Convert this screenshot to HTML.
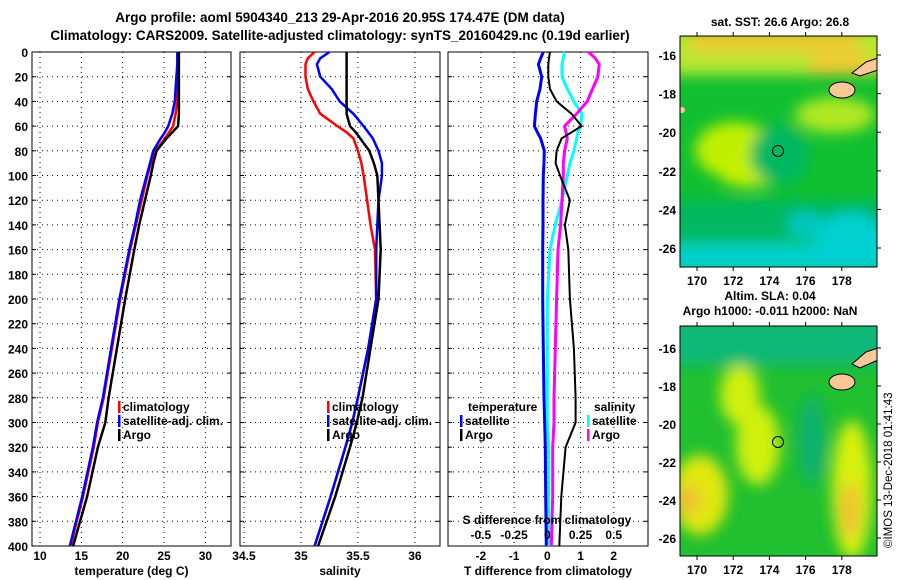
<!DOCTYPE html>
<html><head><meta charset="utf-8"><style>
body{margin:0;background:#fff}
svg{display:block;font-family:"Liberation Sans",sans-serif;font-weight:bold}
</style></head><body>
<svg id="c" width="900" height="580" viewBox="0 0 900 580" xmlns="http://www.w3.org/2000/svg">
<defs>
<filter id="bl" x="-20%" y="-20%" width="140%" height="140%"><feGaussianBlur stdDeviation="7"/></filter>
<clipPath id="m1"><rect x="680" y="36" width="197" height="231"/></clipPath>
<clipPath id="m2"><rect x="680" y="326" width="197" height="230"/></clipPath>
</defs>
<text x="340" y="22" font-size="13.5" text-anchor="middle">Argo profile: aoml 5904340_213 29-Apr-2016 20.95S 174.47E (DM data)</text>
<text x="340" y="40" font-size="13.5" text-anchor="middle">Climatology: CARS2009. Satellite-adjusted climatology: synTS_20160429.nc (0.19d earlier)</text>

<g>
<text x="780" y="26" font-size="12" text-anchor="middle">sat. SST: 26.6 Argo: 26.8</text>
<g clip-path="url(#m1)">
<rect x="680" y="36" width="197" height="231" fill="#10c030"/>
<g filter="url(#bl)">
<rect x="670" y="30" width="220" height="45" fill="#b8e830"/>
<rect x="690" y="30" width="170" height="22" fill="#f0c830"/>
<rect x="810" y="55" width="60" height="20" fill="#f0c830"/>
<ellipse cx="735" cy="150" rx="40" ry="28" fill="#c0f000"/>
<ellipse cx="750" cy="175" rx="30" ry="12" fill="#c8f000"/>
<ellipse cx="835" cy="115" rx="40" ry="18" fill="#b0e820"/>
<ellipse cx="780" cy="155" rx="30" ry="30" fill="#00b860"/>
<rect x="670" y="200" width="220" height="40" fill="#00b860"/>
<rect x="670" y="243" width="220" height="30" fill="#00d0d0"/>
<ellipse cx="850" cy="240" rx="35" ry="28" fill="#00d0d0"/>
<ellipse cx="805" cy="225" rx="18" ry="14" fill="#00c8c0"/>
</g>
<ellipse cx="842" cy="90" rx="13" ry="8" fill="#f8c898" stroke="#000" stroke-width="1"/>
<path d="M852 73 L866 62 L878 58 L878 70 L860 76 Z" fill="#f8c898" stroke="#000" stroke-width="1"/>
<ellipse cx="682" cy="110" rx="3" ry="3" fill="#f8c898"/>
</g>
<rect x="680" y="36" width="197" height="231" fill="none" stroke="#000"/>
<circle cx="778" cy="151" r="5.5" fill="none" stroke="#000"/>
<g id="map1ax"></g>
</g>

<g>
<text x="770" y="300" font-size="12" text-anchor="middle">Altim. SLA: 0.04</text>
<text x="770" y="315" font-size="12" text-anchor="middle">Argo h1000: -0.011 h2000: NaN</text>
<g clip-path="url(#m2)">
<rect x="680" y="326" width="197" height="230" fill="#20c030"/>
<g filter="url(#bl)">
<rect x="670" y="320" width="220" height="45" fill="#10b878"/>
<ellipse cx="740" cy="395" rx="20" ry="30" fill="#d0f010"/>
<ellipse cx="758" cy="445" rx="22" ry="40" fill="#d0f010"/>
<ellipse cx="700" cy="495" rx="28" ry="40" fill="#e0e810"/>
<ellipse cx="688" cy="500" rx="12" ry="16" fill="#f0c030"/>
<ellipse cx="852" cy="490" rx="20" ry="70" fill="#d8f010"/>
<ellipse cx="850" cy="510" rx="10" ry="28" fill="#f0c030"/>
<ellipse cx="812" cy="440" rx="14" ry="45" fill="#10b070"/>
</g>
<ellipse cx="842" cy="382" rx="13" ry="8" fill="#f8c898" stroke="#000" stroke-width="1"/>
<path d="M852 364 L866 352 L878 348 L878 360 L860 368 Z" fill="#f8c898" stroke="#000" stroke-width="1"/>
</g>
<rect x="680" y="326" width="197" height="230" fill="none" stroke="#000"/>
<circle cx="778" cy="442" r="5.5" fill="none" stroke="#000"/>
<g id="map2ax"></g>
</g>
<text transform="translate(892,548) rotate(-90)" font-size="11.5" font-weight="normal">©IMOS 13-Dec-2018 01:41:43</text>
</svg>
<script>
const depths=[0,5,10,20,30,40,50,60,65,70,80,90,100,120,140,160,200,240,280,300,320,360,400];
const tArgo=[26.8,26.8,26.8,26.8,26.8,26.8,26.8,26.7,26.0,25.3,24.1,23.7,23.4,22.7,22.0,21.4,20.3,19.3,18.3,17.9,17.0,15.7,14.0];
const tClim=[26.7,26.7,26.7,26.6,26.6,26.6,26.4,26.1,25.6,25.1,24.0,23.4,23.0,22.3,21.6,20.9,19.7,18.7,17.7,17.0,16.5,15.2,13.7];
const tSat=[26.6,26.6,26.6,26.5,26.4,26.3,26.0,25.5,25.1,24.6,23.7,23.3,22.9,22.1,21.5,20.8,19.6,18.6,17.6,16.9,16.4,15.1,13.6];
const sArgo=[35.40,35.40,35.40,35.40,35.40,35.40,35.40,35.43,35.48,35.52,35.60,35.64,35.67,35.68,35.69,35.70,35.68,35.61,35.54,35.49,35.43,35.30,35.15];
const sClim=[35.12,35.06,35.04,35.04,35.06,35.11,35.17,35.32,35.40,35.46,35.50,35.53,35.55,35.58,35.61,35.65,35.66,35.59,35.50,35.45,35.39,35.26,35.12];
const sSat=[35.25,35.17,35.14,35.17,35.27,35.34,35.46,35.55,35.59,35.63,35.68,35.71,35.71,35.68,35.67,35.66,35.66,35.59,35.50,35.45,35.39,35.26,35.12];
const dtArgo=[0.08,0.05,0.03,0.03,0.08,0.28,0.73,1.03,0.73,0.43,0.28,0.25,0.38,0.68,0.53,0.63,0.68,0.80,0.85,0.85,0.55,0.42,0.36];
const dtSat=[-0.12,-0.2,-0.27,-0.17,-0.22,-0.32,-0.36,-0.39,-0.3,-0.2,-0.09,-0.1,-0.12,-0.13,-0.13,-0.14,-0.14,-0.12,-0.1,-0.08,-0.06,-0.05,-0.03];
const dsSat=[0.13,0.12,0.11,0.11,0.15,0.20,0.26,0.25,0.23,0.22,0.20,0.17,0.15,0.11,0.06,0.02,0.0,0.0,0.0,0.0,0.01,0.01,0.01];
const dsArgo=[0.31,0.36,0.39,0.38,0.34,0.30,0.22,0.13,0.14,0.15,0.13,0.12,0.12,0.11,0.10,0.08,0.07,0.06,0.05,0.05,0.04,0.04,0.03];
const depthTicks=[0,20,40,60,80,100,120,140,160,180,200,220,240,260,280,300,320,340,360,380,400];
const tTicks=[10,15,20,25,30];
const sTicks=[34.5,35,35.5,36];
const dTicks=[-2,-1,0,1,2];
const dsTicks=[-0.5,-0.25,0,0.25,0.5];
const lonTicks=[170,172,174,176,178];
const latTicks=[-16,-18,-20,-22,-24,-26];

const NS='http://www.w3.org/2000/svg';
const svg=document.getElementById('c');
function mk(tag,at,parent){const e=document.createElementNS(NS,tag);for(const k in at)e.setAttribute(k,at[k]);(parent||svg).appendChild(e);return e;}
const Y0=52,Y1=546;
const yS=d=>Y0+d/400*(Y1-Y0);

function panel(name,x0,x1,xmin,xmax,xt,xlabel){
  const g=mk('g',{});
  
  
  const xs=v=>x0+(v-xmin)/(xmax-xmin)*(x1-x0);
  depthTicks.forEach(d=>{
    if(d>0&&d<400){const l=mk('line',{x1:x0,x2:x1,y1:yS(d),y2:yS(d),stroke:'#000','stroke-dasharray':'1,4','stroke-width':1},g);
    }
    mk('line',{x1:x0,x2:x0+4,y1:yS(d),y2:yS(d),stroke:'#000'},g);
    mk('line',{x1:x1-4,x2:x1,y1:yS(d),y2:yS(d),stroke:'#000'},g);
  });
  xt.forEach(v=>{
    const x=xs(v);
    const l=mk('line',{x1:x,x2:x,y1:Y0,y2:Y1,stroke:'#000','stroke-dasharray':'1,4'},g);
    
    const t=mk('text',{x:x,y:Y1+14,'font-size':12,'text-anchor':'middle'},g);t.textContent=v;
    
  });
  const fr=mk('rect',{x:x0,y:Y0,width:x1-x0,height:Y1-Y0,fill:'none',stroke:'#000'},g);
  
  const lb=mk('text',{x:(x0+x1)/2,y:575,'font-size':12,'text-anchor':'middle'},g);lb.textContent=xlabel;
  
  return {g,xs};
}
function line(p,vals,col,nm,w){
  const pts=vals.map((v,i)=>p.xs(v).toFixed(1)+','+yS(depths[i]).toFixed(1)).join(' ');
  const l=mk('polyline',{points:pts,fill:'none',stroke:col,'stroke-width':w||2.5},p.g);
  
}
function legend(g,x,y,items){
  items.forEach((it,i)=>{
    const yy=y+i*14;
    mk('rect',{x:x,y:yy-10,width:2.5,height:12,fill:it[1]},g);
    const t=mk('text',{x:x+5,y:yy,'font-size':12},g);t.textContent=it[0];
    
  });
}
depthTicks.forEach(d=>{const t=mk('text',{x:28,y:yS(d)+5,'font-size':12,'text-anchor':'end'});t.textContent=d;
  });

const p1=panel('temperature',32,231,9.03,33.1,tTicks,'temperature (deg C)');
line(p1,tClim,'#f00','temp-climatology-line');line(p1,tSat,'#00f','temp-satellite-line');line(p1,tArgo,'#000','temp-argo-line');
legend(p1.g,118,411,[['climatology','#f00'],['satellite-adj. clim.','#00f'],['Argo','#000']]);

const p2=panel('salinity',240,440,34.465,36.22,sTicks,'salinity');
line(p2,sClim,'#f00','sal-climatology-line');line(p2,sSat,'#00f','sal-satellite-line');line(p2,sArgo,'#000','sal-argo-line');
legend(p2.g,327,411,[['climatology','#f00'],['satellite-adj. clim.','#00f'],['Argo','#000']]);

const p3=panel('difference',448,648,-2.99,3.03,dTicks,'T difference from climatology');
const dsX=v=>v*4;
line(p3,dsSat.map(dsX),'#0ff','sal-diff-satellite-line',3);
line(p3,dsArgo.map(dsX),'#f0f','sal-diff-argo-line',3);
line(p3,dtSat,'#00f','temp-diff-satellite-line',3);
line(p3,dtArgo,'#000','temp-diff-argo-line',2);
const st=mk('text',{x:547,y:524,'font-size':12,'text-anchor':'middle'},p3.g);st.textContent='S difference from climatology';

dsTicks.forEach(v=>{const t=mk('text',{x:p3.xs(dsX(v)),y:539,'font-size':12,'text-anchor':'middle'},p3.g);t.textContent=v;
  });
const lt=mk('text',{x:468,y:411,'font-size':12},p3.g);lt.textContent='temperature';

legend(p3.g,460,425,[['satellite','#00f'],['Argo','#000']]);
const ls=mk('text',{x:594,y:411,'font-size':12},p3.g);ls.textContent='salinity';

legend(p3.g,587,425,[['satellite','#0ff'],['Argo','#f0f']]);

function mapAxes(id,yTop,latY16,latY26,yBot){
  const g=document.getElementById(id);
  const lx=v=>697+(v-170)*18.1;
  const ly=v=>latY16+(-16-v)/10*(latY26-latY16);
  lonTicks.forEach(v=>{mk('line',{x1:lx(v),x2:lx(v),y1:yTop-4,y2:yTop,stroke:'#000'},g);mk('line',{x1:lx(v),x2:lx(v),y1:yBot,y2:yBot+4,stroke:'#000'},g);
    const t=mk('text',{x:lx(v),y:yBot+18,'font-size':12,'text-anchor':'middle'},g);t.textContent=v;
    });
  latTicks.forEach(v=>{mk('line',{x1:877,x2:881,y1:ly(v),y2:ly(v),stroke:'#000'},g);
    const t=mk('text',{x:676,y:ly(v)+5,'font-size':12,'text-anchor':'end'},g);t.textContent=v;
    });
}
mapAxes('map1ax',36,55,248,267);
mapAxes('map2ax',326,348,538,556);
</script>
</body></html>
